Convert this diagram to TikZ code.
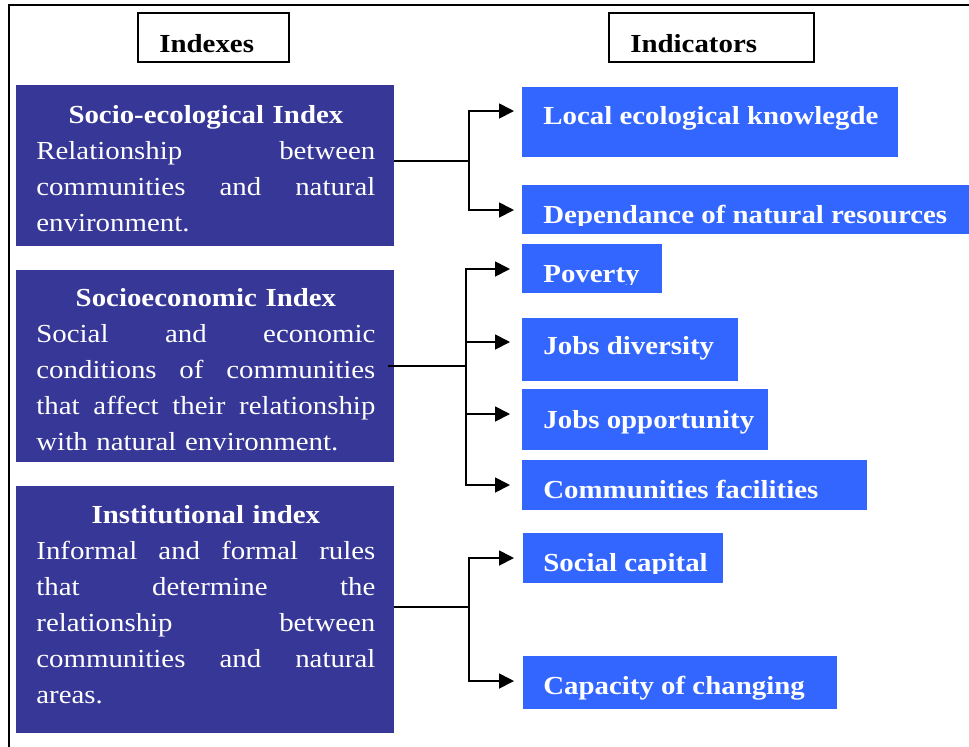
\documentclass[tikz,border=0pt]{standalone}
\usepackage{fontspec}
\setmainfont{Liberation Serif}[FakeStretch=1.11]
\usetikzlibrary{arrows.meta}
\definecolor{darkidx}{HTML}{373797}
\definecolor{indblue}{HTML}{3366FF}
\newcommand{\jl}[1]{\leavevmode\makebox[169.5pt][s]{#1}}
\newcommand{\ttl}[1]{\leavevmode\makebox[169.5pt][c]{\bfseries #1}}
\begin{document}
\begin{tikzpicture}[x=0.5pt,y=-0.5pt,
  darkbox/.style={fill=darkidx, inner sep=0pt, outer sep=0pt, anchor=north west, minimum width=189pt},
  indbox/.style={fill=indblue, inner sep=0pt, outer sep=0pt, anchor=north west},
  hdrbox/.style={draw=black, line width=0.8pt, inner sep=0pt, outer sep=0pt, anchor=north west, minimum height=24.5pt},
  idxtext/.style={text=white, font=\fontsize{13}{18}\selectfont, text width=169.5pt, inner sep=0pt, anchor=north west},
  indtext/.style={text=white, font=\fontsize{13}{18}\selectfont\bfseries, inner sep=0pt, anchor=base west},
  hdrtext/.style={text=black, font=\fontsize{13}{18}\selectfont\bfseries, inner sep=0pt, anchor=base west},
  conn/.style={line width=0.9pt, black},
  arr/.style={conn, -{Triangle[length=7.5pt,width=7.5pt]}}]
\useasboundingbox (0,0) rectangle (969,746);
\fill[white] (0,0) rectangle (969,746);
% outer frame (only top and left edges visible)
\draw[line width=1pt] (9,760) -- (9,5) -- (985,5);

% headers
\node[hdrbox, minimum width=75.5pt] (hidx) at (138,13) {};
\node[hdrtext] (hidxt) at (159,52) {Indexes};
\node[hdrbox, minimum width=102.5pt] (hind) at (609,13) {};
\node[hdrtext] (hindt) at (630,52) {Indicators};

% index boxes
\node[darkbox, minimum height=80.5pt] (se) at (16,85) {};
\node[idxtext] (set) at (36,97.8) {\noindent\strut\ttl{Socio-ecological Index}\\
\jl{Relationship\hfill between}\\
\jl{communities\hfill and\hfill natural}\\
environment.};

\node[darkbox, minimum height=96pt] (sec) at (16,270) {};
\node[idxtext] (sect) at (36,281.3) {\noindent\strut\ttl{Socioeconomic Index}\\
\jl{Social\hfill and\hfill economic}\\
\jl{conditions\hfill of\hfill communities}\\
\jl{that\hfill affect\hfill their\hfill relationship}\\
with natural environment.};

\node[darkbox, minimum height=123.5pt] (ins) at (16,486) {};
\node[idxtext] (inst) at (36,497.8) {\noindent\strut\ttl{Institutional index}\\
\jl{Informal\hfill and\hfill formal\hfill rules}\\
\jl{that\hfill determine\hfill the}\\
\jl{relationship\hfill between}\\
\jl{communities\hfill and\hfill natural}\\
areas.};

% indicator boxes
\node[indbox, minimum width=188pt, minimum height=35pt] (lek) at (522,87) {};
\node[indtext] (lekt) at (543,124) {Local ecological knowlegde};

\node[indbox, minimum width=223.5pt, minimum height=24.5pt] (dep) at (522,185) {};
\begin{scope}
\clip (522,185) rectangle (969,225);
\node[indtext] (dept) at (543,223) {Dependance of natural resources};
\end{scope}

\node[indbox, minimum width=70pt, minimum height=24.5pt] (pov) at (522,244) {};
\begin{scope}
\clip (522,244) rectangle (662,284);
\node[indtext] (povt) at (543,282) {Poverty};
\end{scope}

\node[indbox, minimum width=108pt, minimum height=31.5pt] (jd) at (522,318) {};
\node[indtext] (jdt) at (543,354) {Jobs diversity};

\node[indbox, minimum width=123pt, minimum height=30.5pt] (jo) at (522,389) {};
\node[indtext] (jot) at (543,428) {Jobs opportunity};

\node[indbox, minimum width=172.5pt, minimum height=25pt] (cf) at (522,460) {};
\node[indtext] (cft) at (543,498) {Communities facilities};

\node[indbox, minimum width=100pt, minimum height=25pt] (sc) at (523,533) {};
\begin{scope}
\clip (523,533) rectangle (723,573);
\node[indtext] (sct) at (543,571) {Social capital};
\end{scope}

\node[indbox, minimum width=157pt, minimum height=26.5pt] (cc) at (523,656) {};
\node[indtext] (cct) at (543,694) {Capacity of changing};

% connectors: socio-ecological
\coordinate (j1) at (469,161);
\coordinate (a1) at (514,111);
\coordinate (a2) at (514,210);
\draw[conn] (se.east |- j1) -- (j1);
\draw[arr] (j1) |- (a1);
\draw[arr] (j1) |- (a2);

% connectors: socioeconomic
\coordinate (j2) at (466,366);
\coordinate (b1) at (510,269);
\coordinate (b2) at (510,342);
\coordinate (b3) at (510,414);
\coordinate (b4) at (510,485);
\draw[conn] ([xshift=-3pt]sec.east |- j2) -- (j2);
\draw[arr] (j2) |- (b1);
\draw[arr] (j2) |- (b2);
\draw[arr] (j2) |- (b3);
\draw[arr] (j2) |- (b4);

% connectors: institutional
\coordinate (j3) at (469,607);
\coordinate (c1) at (514,558);
\coordinate (c2) at (514,681);
\draw[conn] (ins.east |- j3) -- (j3);
\draw[arr] (j3) |- (c1);
\draw[arr] (j3) |- (c2);
\end{tikzpicture}
\end{document}
